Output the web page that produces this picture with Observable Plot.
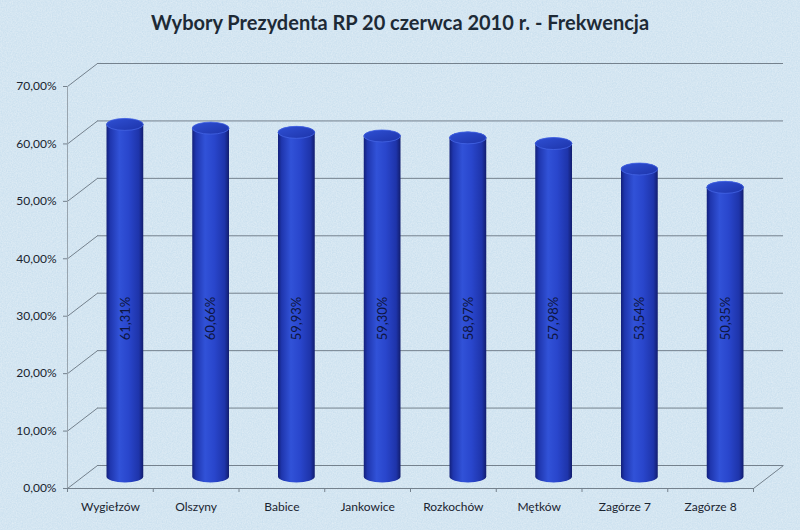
<!DOCTYPE html>
<html><head><meta charset="utf-8">
<script src="https://cdn.jsdelivr.net/npm/d3@7"></script>
<script src="https://cdn.jsdelivr.net/npm/@observablehq/plot@0.6"></script>
<style>
html,body{margin:0;padding:0;}
body{width:800px;height:530px;overflow:hidden;position:relative;font-family:Lato,"Open Sans",sans-serif;
background-color:#c9dfee;
background-image:url("data:image/svg+xml;utf8,<svg xmlns='http://www.w3.org/2000/svg' width='800' height='530'><filter id='n'><feTurbulence type='fractalNoise' baseFrequency='0.8' numOctaves='3' stitchTiles='stitch'/><feColorMatrix values='0 0 0 0 1  0 0 0 0 1  0 0 0 0 1  0 0 0 0.5 -0.05'/></filter><rect width='100%' height='100%' filter='url(%23n)'/></svg>");}
#title{position:absolute;top:10px;left:0;width:800px;text-align:center;font-weight:bold;font-size:20px;color:#1d2a36;}
#chart{position:absolute;top:40px;left:0;}
</style></head><body>
<svg width="0" height="0" style="position:absolute">
<defs>
<linearGradient id="cylBody" x1="0" x2="1" y1="0" y2="0">
<stop offset="0" stop-color="#13207a"/>
<stop offset="0.1" stop-color="#1f36ae"/>
<stop offset="0.35" stop-color="#3152d8"/>
<stop offset="0.6" stop-color="#2946cc"/>
<stop offset="0.88" stop-color="#1e34aa"/>
<stop offset="1" stop-color="#121d6e"/>
</linearGradient>
<linearGradient id="cylCap" x1="0" x2="1" y1="0" y2="1">
<stop offset="0" stop-color="#2f50d4"/>
<stop offset="1" stop-color="#1d34aa"/>
</linearGradient>
</defs>
</svg>
<div id="title">Wybory Prezydenta RP 20 czerwca 2010 r. - Frekwencja</div>
<div id="chart"></div>
<script>
const categories = ["Wygiełzów","Olszyny","Babice","Jankowice","Rozkochów","Mętków","Zagórze 7","Zagórze 8"];
const turnout = [61.31,60.66,59.93,59.30,58.97,57.98,53.54,50.35];
const yTicks = [0,10,20,30,40,50,60,70];

const data = categories.map((name, idx) => ({idx, name, value: turnout[idx]}));
const fmt = v => v.toFixed(2).replace(".", ",") + "%";

const W = 800, H = 490, mL = 67, mR = 47, mT = 46, mB = 42;
const n = categories.length;
// 3D depth offset (pixels) and its data-unit equivalent
const depthPx = [30, -23];
const kx = n / (W - mL - mR), ky = 70 / (H - mT - mB);
const ddx = depthPx[0] * kx, ddy = -depthPx[1] * ky;
const half = [depthPx[0] / 2, depthPx[1] / 2];
const grid = "#74818d";
const barInset = 24.5, capR = 6;

const chart = Plot.plot({
  width: W, height: H,
  marginLeft: mL, marginRight: mR, marginTop: mT, marginBottom: mB,
  style: {background: "transparent", fontFamily: "Lato, 'Open Sans', sans-serif", color: "#1a2430"},
  x: {type: "linear", domain: [0, n], label: null},
  y: {domain: [0, 70], label: null},
  marks: [
    // back wall gridlines
    Plot.ruleY(yTicks, {x1: 0, x2: n, dx: depthPx[0], dy: depthPx[1], stroke: grid, strokeWidth: 1}),
    // side wall diagonals
    Plot.link(yTicks, {x1: 0, y1: d => d, x2: ddx, y2: d => d + ddy, stroke: grid, strokeWidth: 1}),
    // floor right diagonal
    Plot.link([0], {x1: n, y1: 0, x2: n + ddx, y2: ddy, stroke: grid, strokeWidth: 1}),
    // left axis line and floor front edge
    Plot.ruleX([0], {y1: 0, y2: 70, stroke: "#98a4ae", strokeWidth: 1}),
    Plot.ruleY([0], {x1: 0, x2: n, stroke: grid, strokeWidth: 1}),
    // cylinder bodies
    Plot.rect(data, {x1: "idx", x2: d => d.idx + 1, y1: 0, y2: "value",
      insetLeft: barInset, insetRight: barInset, insetTop: -capR, insetBottom: -capR,
      rx: (85.75 - 2 * barInset) / 2, ry: capR,
      dx: half[0], dy: half[1], fill: "url(#cylBody)"}),
    // cylinder tops
    Plot.rect(data, {x1: "idx", x2: d => d.idx + 1, y1: "value", y2: "value",
      insetLeft: barInset, insetRight: barInset, insetTop: -capR, insetBottom: -capR,
      rx: (85.75 - 2 * barInset) / 2, ry: capR,
      dx: half[0], dy: half[1], fill: "url(#cylCap)", stroke: "#4465e4", strokeWidth: 0.8}),
    // value labels
    Plot.text(data, {x: d => d.idx + 0.5, y: 27.6, text: d => fmt(d.value), rotate: -90,
      dx: half[0], dy: half[1], fill: "#0d1540", fontSize: 13}),
    // axes
    Plot.axisY(yTicks, {label: null, tickFormat: fmt, tickSize: 4, tickPadding: 7, fontSize: 12, stroke: grid}),
    Plot.axisX(d3.range(n + 1), {label: null, tickSize: 4, tickFormat: () => "", stroke: grid}),
    Plot.axisX(d3.range(n).map(i => i + 0.5), {label: null, tickSize: 0, tickPadding: 14, fontSize: 12,
      tickFormat: d => categories[Math.floor(d)]})
  ]
});
document.getElementById("chart").appendChild(chart);
</script>
</body></html>
